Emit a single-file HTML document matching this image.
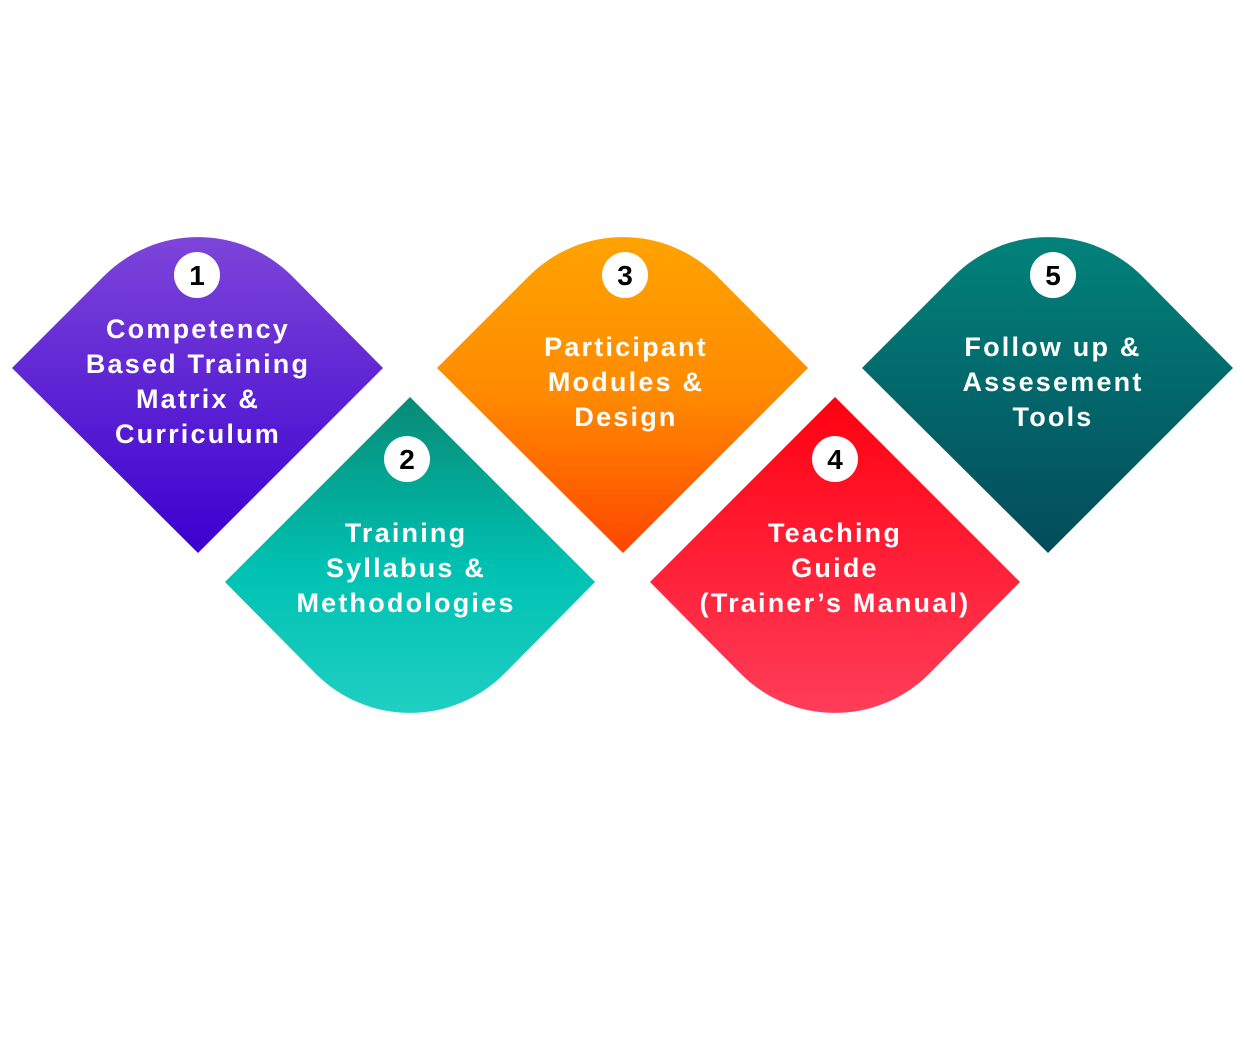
<!DOCTYPE html>
<html><head><meta charset="utf-8"><style>
html,body{margin:0;padding:0;background:#fff;}
svg{display:block}
text{font-family:"Liberation Sans",sans-serif;font-weight:bold;fill:#fff;text-anchor:middle;}
.n{fill:#000;font-size:28px}
.t{font-size:27px;letter-spacing:2.2px}
</style></head><body>
<svg width="1245" height="1043" viewBox="0 0 1245 1043" xmlns="http://www.w3.org/2000/svg">
<defs>
<linearGradient id="g1" x1="0" y1="0" x2="0" y2="1"><stop offset="0" stop-color="#7d45d9"/><stop offset="1" stop-color="#3b00cf"/></linearGradient>
<linearGradient id="g2" x1="0" y1="0" x2="0" y2="1"><stop offset="0" stop-color="#078a76"/><stop offset="0.55" stop-color="#00c2b2"/><stop offset="1" stop-color="#1fcfc2"/></linearGradient>
<linearGradient id="g3" x1="0" y1="0" x2="0" y2="1"><stop offset="0" stop-color="#ffa300"/><stop offset="0.5" stop-color="#ff8a00"/><stop offset="1" stop-color="#ff4600"/></linearGradient>
<linearGradient id="g4" x1="0" y1="0" x2="0" y2="1"><stop offset="0" stop-color="#ff0010"/><stop offset="1" stop-color="#ff3d5a"/></linearGradient>
<linearGradient id="g5" x1="0" y1="0" x2="0" y2="1"><stop offset="0" stop-color="#02827a"/><stop offset="1" stop-color="#034b5b"/></linearGradient>
</defs>
<path d="M12 368 L104 276 A133 133 0 0 1 292 276 L383 368 L198 553 Z" fill="url(#g1)"/>
<path d="M437 368 L529 276 A133 133 0 0 1 717 276 L808 368 L623 553 Z" fill="url(#g3)"/>
<path d="M862 368 L954 276 A133 133 0 0 1 1142 276 L1233 368 L1048 553 Z" fill="url(#g5)"/>
<path d="M225 582 L410 397 L595 582 L504 674 A133 133 0 0 1 316 674 Z" fill="url(#g2)"/>
<path d="M650 582 L835 397 L1020 582 L929 674 A133 133 0 0 1 741 674 Z" fill="url(#g4)"/>

<circle cx="197" cy="275" r="23" fill="#fff"/><text class="n" x="197" y="285">1</text>
<circle cx="407" cy="459" r="23" fill="#fff"/><text class="n" x="407" y="469">2</text>
<circle cx="625" cy="275" r="23" fill="#fff"/><text class="n" x="625" y="285">3</text>
<circle cx="835" cy="459" r="23" fill="#fff"/><text class="n" x="835" y="469">4</text>
<circle cx="1053" cy="275" r="23" fill="#fff"/><text class="n" x="1053" y="285">5</text>

<text class="t" x="198" y="338">Competency</text>
<text class="t" x="198" y="373">Based Training</text>
<text class="t" x="198" y="408">Matrix &amp;</text>
<text class="t" x="198" y="443">Curriculum</text>

<text class="t" x="626" y="356">Participant</text>
<text class="t" x="626" y="391">Modules &amp;</text>
<text class="t" x="626" y="426">Design</text>

<text class="t" x="1053" y="356">Follow up &amp;</text>
<text class="t" x="1053" y="391">Assesement</text>
<text class="t" x="1053" y="426">Tools</text>

<text class="t" x="406" y="542">Training</text>
<text class="t" x="406" y="577">Syllabus &amp;</text>
<text class="t" x="406" y="612">Methodologies</text>

<text class="t" x="835" y="542">Teaching</text>
<text class="t" x="835" y="577">Guide</text>
<text class="t" x="835" y="612">(Trainer’s Manual)</text>
</svg>
</body></html>
